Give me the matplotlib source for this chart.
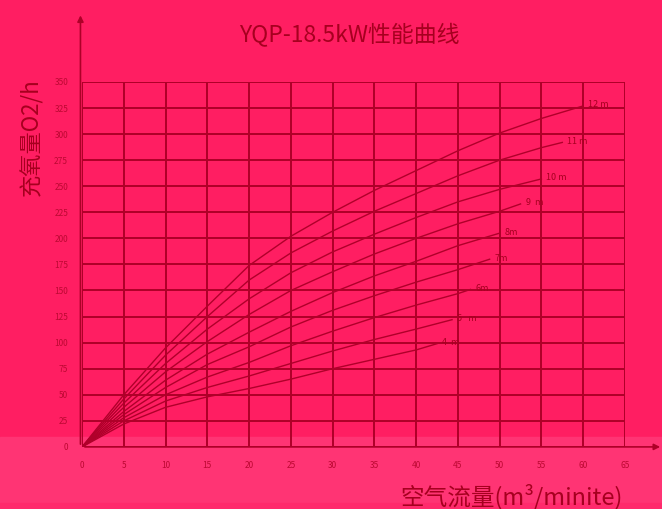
import matplotlib
matplotlib.use("Agg")
import matplotlib.pyplot as plt
import numpy as np

plt.rcParams['font.family'] = ['Noto Sans CJK SC', 'DejaVu Sans']

# data (x: air flow, y: oxygen)
labels = ["12 m", "11 m", "10 m", "9  m", "8m", "7m", "6m", "5   m", "4  m"]
x_12 = [0, 5, 10, 15, 20, 25, 30, 35, 40, 45, 50, 55, 60]
y_12 = [0, 50, 95, 135, 174, 202, 225, 246, 265, 284, 301, 315, 327]
x_11 = [0, 5, 10, 15, 20, 25, 30, 35, 40, 45, 50, 55, 57.5]
y_11 = [0, 46, 88, 125, 160, 186, 207, 226, 243, 260, 275, 287, 292]
x_10 = [0, 5, 10, 15, 20, 25, 30, 35, 40, 45, 50, 55]
y_10 = [0, 42, 80, 113, 142, 167, 187, 204, 220, 235, 247, 257]
x_9 = [0, 5, 10, 15, 20, 25, 30, 35, 40, 45, 50, 52.5]
y_9 = [0, 38, 72, 101, 127, 150, 168, 185, 200, 214, 226, 233]
x_8 = [0, 5, 10, 15, 20, 25, 30, 35, 40, 45, 50]
y_8 = [0, 34, 64, 89, 110, 130, 148, 164, 178, 193, 205]
x_7 = [0, 5, 10, 15, 20, 25, 30, 35, 40, 45, 48.8]
y_7 = [0, 31, 57, 79, 96, 115, 131, 145, 158, 170, 180]
x_6 = [0, 5, 10, 15, 20, 25, 30, 35, 40, 45, 46.5]
y_6 = [0, 28, 50, 67, 81, 97, 111, 124, 136, 147, 151]
x_5 = [0, 5, 10, 15, 20, 25, 30, 35, 40, 44.3]
y_5 = [0, 25, 44, 57, 68, 80, 92, 103, 113, 122]
x_4 = [0, 5, 10, 15, 20, 25, 30, 35, 40, 42.5]
y_4 = [0, 22, 38, 48, 56, 65, 75, 84, 93, 99]

xs = [x_12, x_11, x_10, x_9, x_8, x_7, x_6, x_5, x_4]
ys = [y_12, y_11, y_10, y_9, y_8, y_7, y_6, y_5, y_4]

xticks = list(range(0, 70, 5))
yticks = list(range(0, 375, 25))

bg = "#ff1e62"
dark = "#ae0028"
textc = "#a6001f"

fig = plt.figure(figsize=(6.62, 5.09), dpi=100)
fig.patch.set_facecolor(bg)
# lighter band near the bottom of the scan
fig.patches.append(plt.Rectangle((0, 0.012), 1, 0.13, transform=fig.transFigure,
                                 color="#ff3474", zorder=-5))
fig.patches.append(plt.Rectangle((0, 0.0), 1, 0.012, transform=fig.transFigure,
                                 color="#ff2a6c", zorder=-5))

ax = fig.add_axes([0.124, 0.122, 0.82, 0.717])
ax.set_facecolor("none")
ax.set_xlim(0, 65)
ax.set_ylim(0, 350)
for s in ax.spines.values():
    s.set_visible(False)

for xv in xticks:
    ax.axvline(xv, color=dark, lw=1.4, zorder=1)
for yv in yticks:
    ax.axhline(yv, color=dark, lw=1.4, zorder=1)

for x, y, lab in zip(xs, ys, labels):
    ax.plot(x, y, color="#b0002a", lw=1.0, zorder=2)
    ax.text(x[-1] + 0.6, y[-1] + 1, lab, fontsize=6.5, color=textc, va="center", ha="left")

ax.set_xticks(xticks)
ax.set_yticks(yticks)
ax.tick_params(length=0, labelsize=6, labelcolor="#bc0832", pad=10)

# axis arrows extending beyond the grid
ax.annotate("", xy=(-0.003, 1.19), xytext=(-0.003, 0), xycoords="axes fraction",
            arrowprops=dict(arrowstyle="-|>", color=dark, lw=1.2, mutation_scale=9))
ax.annotate("", xy=(1.07, -0.0), xytext=(0, 0), xycoords="axes fraction",
            arrowprops=dict(arrowstyle="-|>", color=dark, lw=1.2, mutation_scale=9))

fig.text(0.528, 0.93, "YQP-18.5kW性能曲线", fontsize=16.5, color=textc, ha="center", va="center")
fig.text(0.047, 0.731, "充氧量O2/h", fontsize=16, color=textc, rotation=90, ha="center", va="center")
fig.text(0.772, 0.024, "空气流量(m³/minite)", fontsize=17, color=textc, ha="center", va="center")

fig.savefig("out.png", dpi=100, facecolor=fig.get_facecolor())
